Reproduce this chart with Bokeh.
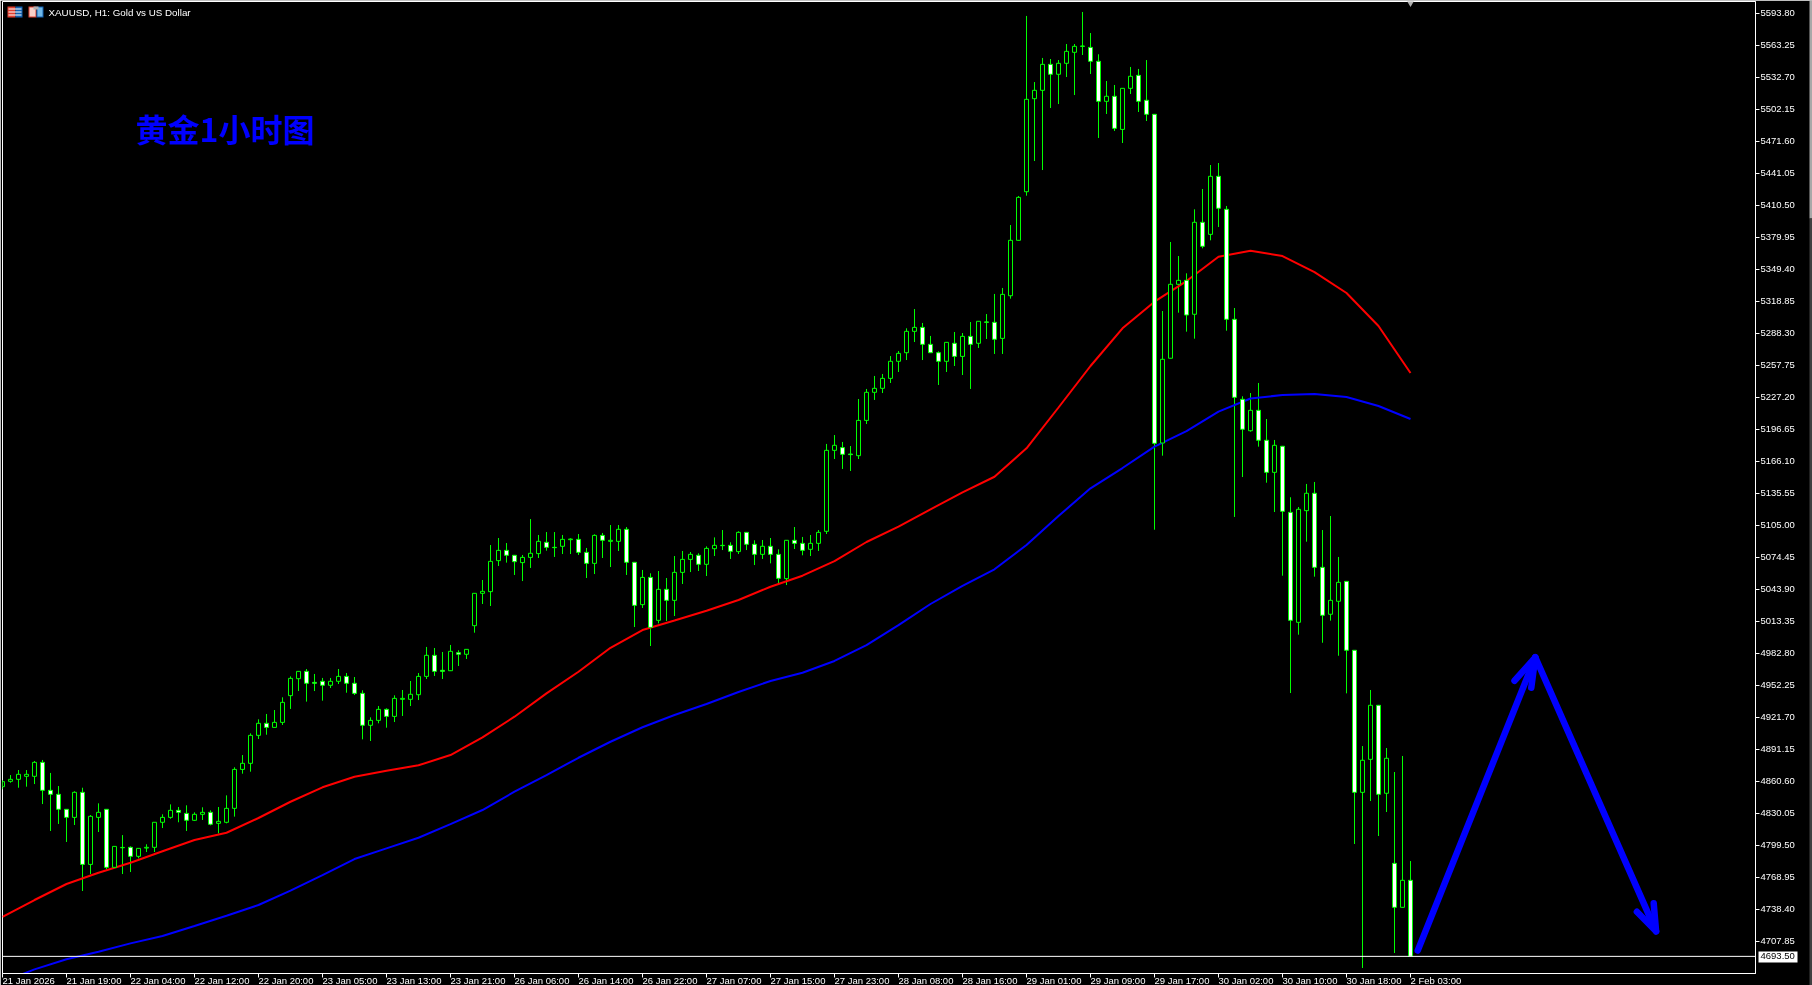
from bokeh.plotting import figure
from bokeh.embed import file_html
from bokeh.resources import INLINE
from bokeh.models import (ColumnDataSource, FixedTicker, NumeralTickFormatter, Span, Label,
                          BoxAnnotation, Range1d)
from bokeh.core.properties import value

opens = [
 4855.5,4860.6,4862.5,4865.4,4865.4,4878.7,4852.0,4848.2,4833.9,4826.2,
 4850.1,4781.3,4826.2,4833.9,4778.5,4797.2,4797.6,4789.0,4796.9,4797.6,
 4821.5,4826.2,4832.9,4830.0,4823.4,4829.1,4831.0,4820.5,4821.5,4834.8,
 4872.0,4877.8,4904.5,4916.0,4912.1,4916.9,4942.4,4958.6,4965.6,4955.1,
 4956.1,4952.3,4956.1,4960.8,4954.2,4944.6,4914.1,4918.8,4929.3,4922.6,
 4938.9,4938.9,4943.3,4960.8,4980.9,4966.6,4966.2,4983.4,4981.9,5009.2,
 5040.1,5041.7,5071.3,5081.1,5076.4,5069.4,5074.4,5078.0,5088.8,5084.0,
 5085.0,5091.3,5091.6,5079.2,5068.7,5095.4,5089.7,5089.7,5101.2,5069.7,
 5029.3,5055.3,5014.3,5043.9,5033.4,5060.1,5072.5,5076.4,5067.8,5082.7,
 5085.6,5085.9,5079.9,5098.3,5086.9,5077.3,5085.0,5077.3,5054.1,5090.7,
 5087.8,5082.1,5087.8,5099.3,5176.6,5179.2,5173.1,5171.5,5205.2,5232.0,
 5235.8,5245.3,5261.6,5269.8,5290.2,5294.0,5277.8,5269.8,5261.6,5278.8,
 5266.3,5285.4,5278.8,5299.2,5298.8,5283.5,5324.2,5377.1,5423.5,5512.3,
 5520.3,5545.1,5535.6,5546.1,5556.6,5562.6,5561.3,5548.0,5509.8,5514.6,
 5483.0,5522.2,5534.6,5510.8,5497.4,5183.6,5264.5,5335.1,5338.9,5306.5,
 5394.3,5382.8,5438.2,5406.7,5301.7,5225.3,5195.3,5214.8,5186.2,5155.6,
 5180.5,5117.4,5012.4,5119.0,5135.6,5064.9,5020.1,5032.5,5051.5,4985.7,
 4850.1,4881.6,4933.2,4849.2,4782.3,4740.3,4766.1]

highs = [
 4861.9,4866.6,4871.4,4871.4,4880.0,4881.0,4868.6,4856.1,4833.9,4851.1,
 4854.5,4828.4,4839.6,4833.9,4798.5,4809.3,4798.5,4796.6,4800.5,4821.5,
 4829.1,4838.6,4836.1,4837.7,4831.0,4835.8,4832.9,4836.1,4847.2,4874.0,
 4885.7,4906.4,4919.8,4924.9,4928.7,4940.8,4960.8,4965.6,4967.8,4963.1,
 4959.3,4959.3,4967.8,4964.0,4960.2,4947.5,4921.7,4932.5,4930.3,4942.7,
 4947.8,4956.4,4964.0,4988.9,4987.9,4984.1,4990.8,4985.7,4986.6,5040.1,
 5052.8,5086.2,5092.9,5088.1,5076.7,5076.7,5111.0,5095.8,5098.6,5098.6,
 5095.8,5092.6,5096.7,5083.4,5096.4,5097.7,5105.3,5105.3,5103.4,5069.7,
 5062.4,5059.2,5061.4,5054.7,5075.7,5080.5,5079.5,5078.3,5084.9,5093.5,
 5100.5,5088.8,5099.3,5098.3,5090.7,5091.0,5092.9,5082.1,5091.0,5103.4,
 5093.9,5095.8,5100.5,5182.7,5191.2,5184.6,5180.7,5225.6,5235.2,5247.6,
 5249.5,5266.6,5271.4,5293.1,5311.5,5298.2,5285.8,5271.1,5279.7,5289.6,
 5288.6,5299.1,5299.8,5306.7,5325.9,5331.6,5391.7,5419.4,5591.3,5528.2,
 5551.2,5550.2,5549.2,5564.5,5564.5,5595.1,5575.0,5554.7,5529.2,5525.4,
 5522.5,5542.6,5540.7,5549.2,5497.4,5309.6,5375.5,5362.1,5345.6,5406.7,
 5426.1,5449.0,5450.9,5409.9,5312.5,5228.2,5231.3,5240.9,5206.5,5186.5,
 5180.7,5131.8,5122.5,5144.5,5146.4,5100.5,5113.9,5074.8,5051.5,4985.7,
 4894.3,4947.8,4933.5,4892.4,4869.5,4884.8,4784.5]

lows = [
 4853.0,4859.3,4854.5,4855.5,4858.0,4838.9,4813.2,4819.9,4802.7,4818.9,
 4755.9,4772.1,4812.2,4776.6,4778.0,4772.1,4774.0,4787.1,4793.1,4793.1,
 4816.0,4824.9,4821.5,4813.2,4822.7,4823.7,4818.6,4810.9,4820.5,4826.9,
 4867.9,4869.8,4901.0,4905.1,4912.1,4914.4,4929.7,4946.8,4936.7,4946.8,
 4937.6,4949.7,4953.5,4945.2,4943.0,4900.7,4899.1,4916.0,4911.8,4917.2,
 4923.0,4932.5,4938.2,4958.3,4961.2,4958.3,4965.9,4970.7,4977.4,5002.5,
 5029.9,5028.0,5066.2,5069.4,5057.6,5051.8,5064.3,5073.8,5080.8,5074.8,
 5077.6,5077.6,5076.7,5054.7,5058.5,5073.8,5065.2,5080.5,5057.6,5007.9,
 5026.1,4989.8,5011.4,5013.7,5018.4,5049.0,5060.4,5061.4,5056.6,5075.7,
 5081.4,5072.9,5077.6,5081.4,5067.1,5072.9,5068.7,5049.0,5048.0,5082.4,
 5076.4,5075.7,5080.5,5096.7,5168.3,5158.8,5156.9,5168.3,5201.7,5224.7,
 5231.3,5240.9,5251.4,5262.8,5280.0,5262.8,5269.5,5239.0,5251.4,5257.1,
 5248.5,5235.2,5274.3,5282.9,5268.6,5268.6,5321.4,5377.0,5419.7,5452.8,
 5444.2,5503.4,5507.2,5533.0,5515.8,5554.0,5535.9,5474.8,5497.7,5481.5,
 5470.0,5516.8,5499.6,5491.0,5100.8,5171.5,5264.3,5308.0,5289.9,5283.2,
 5369.5,5377.1,5389.8,5290.8,5113.0,5151.1,5194.4,5180.1,5145.7,5117.7,
 5056.9,4944.9,5000.6,5089.4,5056.0,4992.9,5014.0,4980.5,4944.6,4800.8,
 4682.4,4841.8,4808.4,4831.3,4696.7,4740.1,4693.5]

closes = [
 4860.3,4862.5,4867.3,4867.3,4878.7,4852.0,4848.2,4833.9,4826.2,4850.1,
 4781.3,4827.2,4831.0,4778.5,4798.5,4797.5,4789.0,4796.6,4797.6,4821.5,
 4826.2,4832.9,4831.0,4823.4,4829.1,4831.0,4819.6,4822.4,4834.8,4872.0,
 4877.8,4904.5,4916.0,4912.1,4916.9,4936.0,4958.9,4965.6,4954.2,4954.2,
 4952.3,4956.1,4960.8,4954.2,4944.6,4914.1,4918.8,4929.3,4922.6,4939.8,
 4939.8,4943.7,4960.8,4980.9,4965.6,4965.6,4984.7,4981.9,4986.6,5040.1,
 5042.0,5070.6,5081.1,5076.4,5070.3,5074.4,5078.3,5089.7,5084.0,5083.7,
 5091.6,5091.9,5079.2,5068.7,5095.4,5090.7,5090.7,5101.2,5069.7,5028.6,
 5055.3,5007.6,5043.9,5033.4,5060.1,5072.5,5077.3,5067.8,5083.0,5085.9,
 5085.9,5080.2,5098.3,5086.9,5077.3,5085.0,5077.3,5054.4,5090.7,5087.8,
 5081.1,5087.8,5098.3,5176.6,5181.4,5172.8,5172.5,5205.2,5232.0,5235.8,
 5245.3,5261.6,5269.2,5290.2,5294.0,5277.8,5269.8,5261.6,5279.7,5266.3,
 5285.4,5277.8,5299.8,5298.8,5282.6,5325.5,5377.1,5418.1,5511.7,5520.3,
 5545.1,5535.6,5546.1,5557.5,5562.3,5562.3,5548.0,5509.8,5514.6,5484.0,
 5522.2,5533.7,5509.8,5497.4,5183.3,5263.5,5335.1,5338.9,5305.8,5394.3,
 5371.4,5438.2,5407.7,5301.7,5227.2,5196.7,5214.8,5186.2,5155.6,5181.4,
 5118.4,5014.3,5120.3,5135.6,5064.9,5019.1,5033.4,5050.6,4985.7,4850.1,
 4880.7,4933.2,4848.2,4882.6,4740.3,4766.1,4693.5]

ma_bars = list(range(0, 177, 4))
ma_red = [
 4731.1,4747.3,4762.6,4773.3,4782.9,4793.8,4804.6,4811.5,4825.6,4841.1,
 4854.9,4865.0,4870.7,4875.9,4885.7,4902.6,4922.3,4944.6,4965.2,4988.1,
 5005.0,5014.1,5023.5,5033.7,5046.4,5056.9,5070.9,5089.1,5103.7,5120.3,
 5136.5,5151.4,5178.5,5217.5,5257.1,5293.1,5318.5,5338.2,5361.4,5367.2,
 5362.1,5346.8,5326.8,5295.3,5250.4]
ma_blue = [
 4669.0,4681.1,4690.7,4697.9,4705.9,4712.9,4722.5,4732.3,4742.5,4756.2,
 4771.1,4786.4,4796.6,4806.7,4819.8,4833.2,4850.7,4866.6,4883.1,4898.4,
 4912.2,4923.9,4934.4,4945.9,4956.4,4964.3,4975.5,4990.7,5009.8,5029.9,
 5047.3,5063.0,5086.2,5113.9,5140.3,5159.7,5180.2,5195.0,5213.6,5226.1,
 5229.4,5230.4,5227.5,5218.9,5206.5]

price_ticks = [
 5593.80,5563.25,5532.70,5502.15,5471.60,5441.05,5410.50,5379.95,5349.40,5318.85,
 5288.30,5257.75,5227.20,5196.65,5166.10,5135.55,5105.00,5074.45,5043.90,5013.35,
 4982.80,4952.25,4921.70,4891.15,4860.60,4830.05,4799.50,4768.95,4738.40,4707.85]
time_tick_bars = list(range(0, 177, 8))
time_tick_labels = [
 "21 Jan 2026","21 Jan 19:00","22 Jan 04:00","22 Jan 12:00","22 Jan 20:00","23 Jan 05:00",
 "23 Jan 13:00","23 Jan 21:00","26 Jan 06:00","26 Jan 14:00","26 Jan 22:00","27 Jan 07:00",
 "27 Jan 15:00","27 Jan 23:00","28 Jan 08:00","28 Jan 16:00","29 Jan 01:00","29 Jan 09:00",
 "29 Jan 17:00","30 Jan 02:00","30 Jan 10:00","30 Jan 18:00","2 Feb 03:00"]
last_price = 4693.50

# hand-drawn arrows on the chart: (bar, price)
arrow_up_bars = [176.9, 191.6]
arrow_up_prices = [4699.0, 4979.0]
arrow_down_bars = [191.6, 206.7]
arrow_down_prices = [4979.0, 4717.4]
head_up_bars = [189.0, 191.6, 191.1]
head_up_prices = [4956.6, 4979.0, 4950.0]
head_down_bars = [204.3, 206.7, 206.4]
head_down_prices = [4736.1, 4717.4, 4744.1]

GREEN, RED, BLUE, WHITE = "#00FF00", "#FF0000", "#0000FF", "#FFFFFF"
FONT = "Liberation Sans"
SHIFT = 0.5  # the renderer offsets strokes by half a pixel

# pixel <-> data mapping of the MT5 chart (8 px per bar, 32 px per 30.55 USD)
def X(px): return (px + SHIFT - 2.5) / 8.0
def Y(py): return 5606.53 - 0.95469 * (py + SHIFT)

p = figure(width=1812, height=985, output_backend="svg", toolbar_location=None,
           x_range=Range1d(X(2), X(1755)), y_range=Range1d(Y(973), Y(1)),
           y_axis_location="right", min_border_left=2, min_border_top=1,
           min_border_right=57, min_border_bottom=12,
           background_fill_color="black", border_fill_color="black",
           outline_line_color=WHITE, outline_line_width=1,
           styles={"position": "fixed", "left": "0", "top": "0"})
p.grid.visible = False

ya = p.yaxis[0]
ya.ticker = FixedTicker(ticks=price_ticks)
ya.formatter = NumeralTickFormatter(format="0.00")
ya.axis_line_color = WHITE
ya.major_tick_line_color = WHITE
ya.major_tick_in = 0
ya.major_tick_out = 4
ya.minor_tick_line_color = None
ya.major_label_text_color = WHITE
ya.major_label_text_font = FONT
ya.major_label_text_font_size = "9.5px"
ya.major_label_standoff = 1

xa = p.xaxis[0]
xa.ticker = FixedTicker(ticks=time_tick_bars)
xa.axis_line_color = WHITE
xa.major_tick_line_color = WHITE
xa.major_tick_in = 0
xa.major_tick_out = 4
xa.minor_tick_line_color = None
xa.major_label_text_font_size = "0px"
xa.major_label_text_color = None

bars = list(range(len(opens)))
src = ColumnDataSource(dict(
    x=bars, high=highs, low=lows,
    top=[max(o, c) for o, c in zip(opens, closes)],
    bottom=[min(o, c) for o, c in zip(opens, closes)],
    fill=[WHITE if c < o else "#000000" for o, c in zip(opens, closes)]))

p.segment("x", "high", "x", "low", source=src, line_color=GREEN, line_width=1)
p.line(ma_bars, ma_red, line_color=RED, line_width=2)
p.line(ma_bars, ma_blue, line_color=BLUE, line_width=2)
p.vbar("x", 0.5, "top", "bottom", source=src, fill_color="fill", line_color=GREEN, line_width=1)

p.add_layout(Span(location=last_price, dimension="width", line_color=WHITE, line_width=1))

for xs, ys in ((arrow_up_bars, arrow_up_prices), (arrow_down_bars, arrow_down_prices),
               (head_up_bars, head_up_prices), (head_down_bars, head_down_prices)):
    p.line(xs, ys, line_color=BLUE, line_width=6.5, line_cap="round", line_join="round")

p.text([X(135)], [Y(150)], text=["黄金1小时图"], text_color=BLUE,
       text_font=value("Noto Sans CJK SC"), text_font_size="32px", text_font_style="bold",
       text_baseline="bottom", text_align="left")

p.scatter([176], [Y(2)], marker="inverted_triangle", size=8, fill_color="#B0B0B0", line_color=None)

def box(l, t, r, b, color):
    p.add_layout(BoxAnnotation(left=X(l), right=X(r), top=Y(t), bottom=Y(b),
                               fill_color=color, fill_alpha=1, line_color=None, level="overlay"))

# title-bar icons
box(7, 6, 15, 17, "#E04030"); box(15, 6, 22, 17, "#1060B0")
box(8, 8, 21, 9, WHITE); box(8, 11, 21, 12, WHITE); box(8, 14, 21, 15, WHITE)
box(28, 6, 36, 17, "#E04030"); box(36, 6, 43, 17, "#1060B0")
box(29, 7, 35, 16, "#F8D0C8"); box(37, 7, 42, 16, "#70B8E8")
box(33, 6, 38, 9, "#B0B0B0")

p.add_layout(Label(x=X(48), y=Y(12), text="XAUUSD, H1:  Gold vs US Dollar", text_color=WHITE,
                   text_font=FONT, text_font_size="9.8px", text_baseline="middle", text_align="left"))

# a transparent sheet over the whole window, same data coordinates, for what lies outside the frame
q = figure(width=1812, height=985, output_backend="svg", toolbar_location=None,
           x_range=Range1d(X(0), X(1812)), y_range=Range1d(Y(985), Y(0)),
           x_axis_location=None, y_axis_location=None,
           min_border_left=0, min_border_right=0, min_border_top=0, min_border_bottom=0,
           background_fill_color=None, border_fill_color=None, outline_line_color=None,
           styles={"position": "fixed", "left": "0", "top": "0"})
q.grid.visible = False

# scrollbar at the window edge
q.quad(left=[X(1809), X(1809)], right=[X(1812), X(1812)], top=[Y(0), Y(218)], bottom=[Y(218), Y(985)],
       fill_color=["#A8A8A8", "#404040"], line_color=None)
# last-price tag
q.quad(left=[X(1758)], right=[X(1797)], top=[Y(951)], bottom=[Y(962)], fill_color=WHITE, line_color=None)
q.text([X(1760)], [last_price], text=["4693.50"], text_color="#000000", text_font=value(FONT),
       text_font_size="9.5px", text_baseline="middle", text_align="left")
# time labels
q.text(time_tick_bars, [Y(974.2)] * len(time_tick_bars), text=time_tick_labels, text_color=WHITE,
       text_font=value(FONT), text_font_size="9.5px", text_baseline="top", text_align="left")

open("out.html", "w").write(file_html([p, q], INLINE))
